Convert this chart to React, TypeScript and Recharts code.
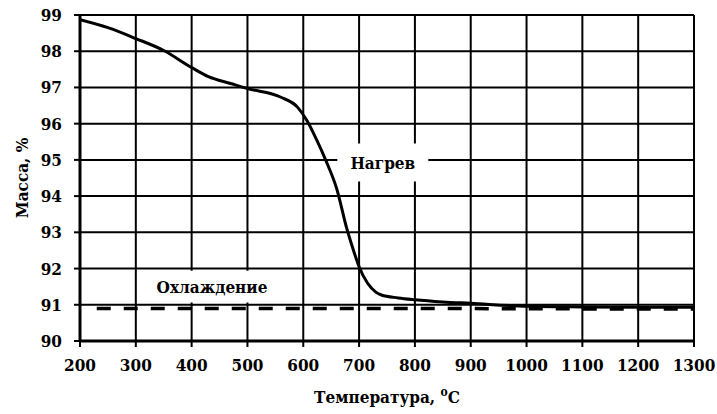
import React from "react";
import {
  LineChart,
  Line,
  XAxis,
  YAxis,
  CartesianGrid,
  ReferenceArea,
  Label,
} from "recharts";

const xTicks = [200, 300, 400, 500, 600, 700, 800, 900, 1000, 1100, 1200, 1300];
const yTicks = [90, 91, 92, 93, 94, 95, 96, 97, 98, 99];

// Нагрев (heating) curve
const heatTemp = [
  200, 250, 300, 350, 400, 430, 470, 500, 560, 590, 606, 624, 640, 660, 678,
  690, 700, 715, 730, 740, 770, 800, 850, 900, 1000, 1100, 1200, 1300,
];
const heatMass = [
  98.87, 98.65, 98.35, 98.02, 97.55, 97.3, 97.11, 96.97, 96.73, 96.45, 96.1,
  95.55, 95.0, 94.2, 93.1, 92.5, 92.05, 91.6, 91.35, 91.27, 91.19, 91.14,
  91.08, 91.04, 90.96, 90.94, 90.93, 90.93,
];

// Охлаждение (cooling) curve
const coolTemp = [230, 500, 800, 1000, 1300];
const coolMass = [90.9, 90.9, 90.9, 90.89, 90.88];

const heating = heatTemp.map((t, i) => ({ t, m: heatMass[i] }));
const cooling = coolTemp.map((t, i) => ({ t, m: coolMass[i] }));

const FONT = "'DejaVu Serif Condensed', 'DejaVu Serif', serif";
const tickStyle = {
  fill: "#000",
  fontSize: 17,
  fontWeight: "bold",
  fontFamily: FONT,
};
const labelStyle = { fill: "#000", fontSize: 17, fontWeight: "bold", fontFamily: FONT };

const XTitle = (props: any) => {
  const vb = props.viewBox || {};
  const cx = vb.x + vb.width / 2;
  return (
    <text x={cx} y={403} textAnchor="middle" {...labelStyle}>
      Температура, <tspan fontSize={12} dy={-7}>o</tspan>
      <tspan dy={7}>C</tspan>
    </text>
  );
};

const YTitle = (props: any) => {
  const vb = props.viewBox || {};
  const cy = vb.y + vb.height / 2;
  return (
    <text
      x={28}
      y={cy}
      textAnchor="middle"
      transform={`rotate(-90, 28, ${cy})`}
      {...labelStyle}
    >
      Масса, %
    </text>
  );
};

export default function App() {
  return (
    <div style={{ position: "absolute", left: 0, top: 0, background: "#fff" }}>
      <LineChart
        width={717}
        height={414}
        margin={{ top: 15, right: 23, left: 0, bottom: 0 }}
      >
        <CartesianGrid stroke="#000" strokeWidth={2} />
        <XAxis
          type="number"
          dataKey="t"
          domain={[200, 1300]}
          ticks={xTicks}
          interval={0}
          height={73}
          allowDataOverflow
          tick={tickStyle}
          tickSize={6}
          tickMargin={12}
          axisLine={{ stroke: "#000", strokeWidth: 3 }}
          tickLine={{ stroke: "#000", strokeWidth: 2 }}
        >
          <Label content={<XTitle />} />
        </XAxis>
        <YAxis
          type="number"
          dataKey="m"
          domain={[90, 99]}
          ticks={yTicks}
          interval={0}
          width={80}
          allowDataOverflow
          tick={tickStyle}
          tickSize={6}
          tickMargin={12}
          axisLine={{ stroke: "#000", strokeWidth: 3 }}
          tickLine={{ stroke: "#000", strokeWidth: 2 }}
        >
          <Label content={<YTitle />} />
        </YAxis>
        <ReferenceArea
          x1={661}
          x2={824}
          y1={94.4}
          y2={95.45}
          fill="#fff"
          fillOpacity={1}
          stroke="none"
          label={{ value: "Нагрев", position: "center", ...labelStyle }}
        />
        <ReferenceArea
          x1={338}
          x2={535}
          y1={91.06}
          y2={91.94}
          fill="#fff"
          fillOpacity={1}
          stroke="none"
          label={{ value: "Охлаждение", position: "center", ...labelStyle }}
        />
        <Line
          data={cooling}
          dataKey="m"
          type="linear"
          stroke="#000"
          strokeWidth={3.5}
          strokeDasharray="14 13"
          dot={false}
          isAnimationActive={false}
        />
        <Line
          data={heating}
          dataKey="m"
          type="monotone"
          stroke="#000"
          strokeWidth={3}
          dot={false}
          isAnimationActive={false}
        />
      </LineChart>
    </div>
  );
}
